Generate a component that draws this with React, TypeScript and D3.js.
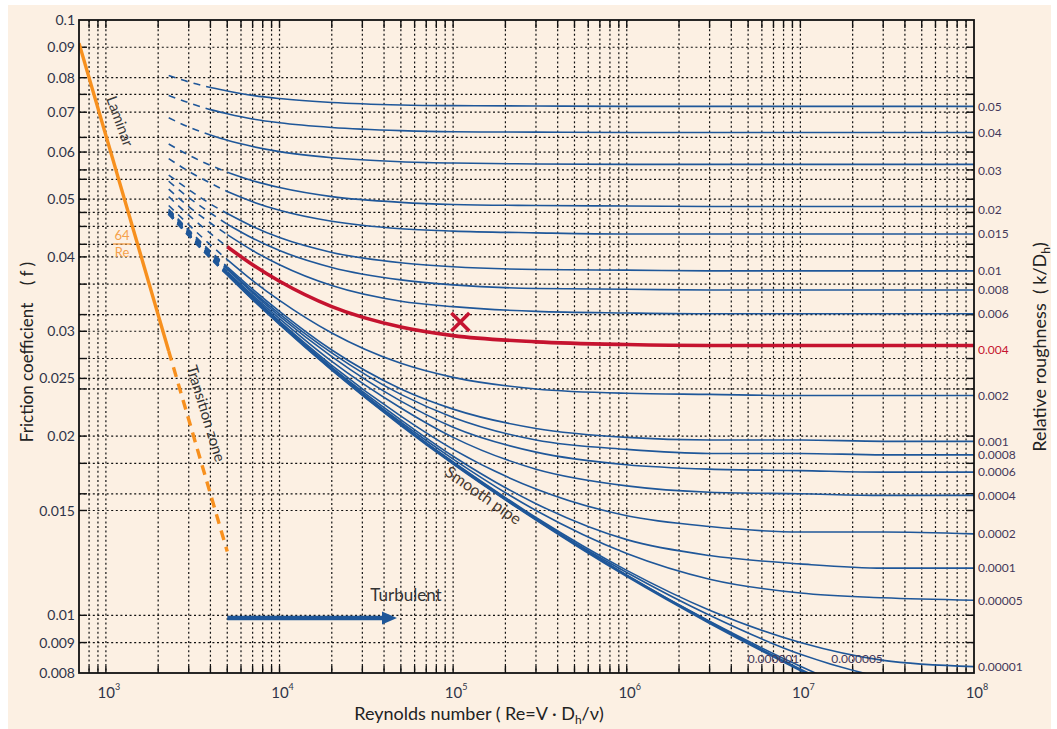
import React, { Component } from "react";
import * as d3 from "d3";

const reynolds = [2300, 3000, 4000, 5000, 7000, 1e4, 2e4, 5e4, 1e5, 3e5, 1e6, 3e6, 1e7, 3e7, 1e8];

// friction coefficient f of each relative roughness curve, one value per Re above
const rough_0_05 = [0.0807, 0.0787, 0.077, 0.076, 0.0747, 0.0738, 0.0727, 0.072, 0.0718, 0.0717, 0.0716, 0.0716, 0.0716, 0.0716, 0.0716];
const rough_0_04 = [0.0747, 0.0726, 0.0707, 0.0696, 0.0682, 0.0672, 0.066, 0.0652, 0.0649, 0.0648, 0.0647, 0.0647, 0.0647, 0.0647, 0.0647];
const rough_0_03 = [0.0685, 0.0661, 0.0641, 0.0628, 0.0613, 0.0601, 0.0587, 0.0578, 0.0575, 0.0573, 0.0572, 0.0572, 0.0572, 0.0572, 0.0572];
const rough_0_02 = [0.0619, 0.0593, 0.057, 0.0555, 0.0537, 0.0523, 0.0505, 0.0494, 0.049, 0.0488, 0.0487, 0.0486, 0.0486, 0.0486, 0.0486];
const rough_0_015 = [0.0585, 0.0557, 0.0532, 0.0515, 0.0495, 0.0479, 0.0459, 0.0446, 0.0442, 0.0439, 0.0437, 0.0437, 0.0437, 0.0437, 0.0437];
const rough_0_01 = [0.0549, 0.0519, 0.0491, 0.0473, 0.045, 0.0431, 0.0407, 0.0391, 0.0385, 0.0381, 0.038, 0.0379, 0.0379, 0.0379, 0.0379];
const rough_0_008 = [0.0536, 0.0503, 0.0474, 0.0454, 0.043, 0.041, 0.0384, 0.0366, 0.0359, 0.0354, 0.0353, 0.0352, 0.0352, 0.0352, 0.0352];
const rough_0_006 = [0.052, 0.0486, 0.0456, 0.0436, 0.041, 0.0388, 0.0358, 0.0337, 0.033, 0.0324, 0.0322, 0.0321, 0.0321, 0.0321, 0.0321];
const rough_0_004 = [0.0505, 0.047, 0.0438, 0.0416, 0.0388, 0.0364, 0.033, 0.0305, 0.0295, 0.0288, 0.0285, 0.0284, 0.0284, 0.0284, 0.0284];
const rough_0_002 = [0.0488, 0.0453, 0.0419, 0.0396, 0.0365, 0.0338, 0.0298, 0.0265, 0.0251, 0.024, 0.0236, 0.0235, 0.0234, 0.0234, 0.0234];
const rough_0_001 = [0.0481, 0.0444, 0.0409, 0.0385, 0.0353, 0.0324, 0.0279, 0.024, 0.0222, 0.0206, 0.0199, 0.0197, 0.0197, 0.0196, 0.0196];
const rough_0_0008 = [0.0479, 0.0443, 0.0407, 0.0383, 0.035, 0.0321, 0.0276, 0.0235, 0.0215, 0.0197, 0.019, 0.0187, 0.0187, 0.0186, 0.0186];
const rough_0_0006 = [0.0478, 0.0441, 0.0405, 0.0381, 0.0348, 0.0318, 0.0272, 0.0229, 0.0207, 0.0188, 0.0179, 0.0176, 0.0175, 0.0174, 0.0174];
const rough_0_0004 = [0.0476, 0.0439, 0.0403, 0.0378, 0.0345, 0.0315, 0.0267, 0.0223, 0.0199, 0.0176, 0.0165, 0.0161, 0.016, 0.0159, 0.0159];
const rough_0_0002 = [0.0475, 0.0437, 0.0401, 0.0376, 0.0343, 0.0312, 0.0263, 0.0216, 0.019, 0.0163, 0.0147, 0.0141, 0.0138, 0.0138, 0.0137];
const rough_0_0001 = [0.0474, 0.0436, 0.04, 0.0375, 0.0341, 0.031, 0.0261, 0.0213, 0.0185, 0.0154, 0.0134, 0.0126, 0.0122, 0.012, 0.012];
const rough_0_00005 = [0.0473, 0.0436, 0.0399, 0.0374, 0.034, 0.031, 0.026, 0.0211, 0.0183, 0.015, 0.0127, 0.0115, 0.0109, 0.0107, 0.0106];
const rough_0_00001 = [0.0473, 0.0435, 0.0399, 0.0374, 0.034, 0.0309, 0.0259, 0.0209, 0.0181, 0.0146, 0.0119, 0.0102, 0.009, 0.0084, 0.0082];
const rough_0_000005 = [0.0473, 0.0435, 0.0399, 0.0374, 0.034, 0.0309, 0.0259, 0.0209, 0.018, 0.0145, 0.0118, 0.01, 0.0086, 0.00786, 0.0075];
const rough_0_000001 = [0.0473, 0.0435, 0.0399, 0.0374, 0.034, 0.0309, 0.0259, 0.0209, 0.018, 0.0145, 0.01167, 0.00977, 0.00821, 0.00718, 0.0064];
const smoothPipe = [0.0473, 0.0435, 0.0399, 0.0374, 0.034, 0.0309, 0.0259, 0.0209, 0.018, 0.0145, 0.01165, 0.00972, 0.0081, 0.00695, 0.0059];

const roughnessLabels = ["0.05", "0.04", "0.03", "0.02", "0.015", "0.01", "0.008", "0.006", "0.004", "0.002", "0.001",
    "0.0008", "0.0006", "0.0004", "0.0002", "0.0001", "0.00005", "0.00001", "0.000005", "0.000001"];
const roughnessCurves = [rough_0_05, rough_0_04, rough_0_03, rough_0_02, rough_0_015, rough_0_01, rough_0_008, rough_0_006,
    rough_0_004, rough_0_002, rough_0_001, rough_0_0008, rough_0_0006, rough_0_0004, rough_0_0002, rough_0_0001,
    rough_0_00005, rough_0_00001, rough_0_000005, rough_0_000001];

// laminar line 64/Re, solid up to 2300 then dashed
const laminarRe = [700, 2300, 5000];
const laminarF = [0.0914, 0.0278, 0.0128];

// highlighted operating point (red cross)
const markRe = 1.1e5;
const markF = 0.0311;

const yTickValues = [0.1, 0.09, 0.08, 0.07, 0.06, 0.05, 0.04, 0.03, 0.025, 0.02, 0.015, 0.01, 0.009, 0.008];
const yGridValues = [0.09, 0.08, 0.075, 0.07, 0.0635, 0.06, 0.056, 0.054, 0.05, 0.0475, 0.045, 0.042, 0.04, 0.036,
    0.032, 0.03, 0.027, 0.025, 0.024, 0.02, 0.018, 0.016, 0.015, 0.01, 0.009];
const xDecades = [3, 4, 5, 6, 7, 8];

class MoodyChart extends Component {
    svgRef = React.createRef<SVGSVGElement>();

    componentDidMount() {
        this.draw();
    }

    draw() {
        const W = 1057, H = 729;
        const box = { left: 79, top: 20, right: 974, bottom: 673 };
        const blue = "#1f5799";
        const red = "#c5132f";
        const orange = "#f7901e";
        const ink = "#2f3448";

        const svg = d3.select(this.svgRef.current);
        svg.selectAll("*").remove();

        const x = d3.scaleLog().domain([700, 1e8]).range([box.left, box.right]);
        const y = d3.scaleLog().domain([0.008, 0.1]).range([box.bottom, box.top]);

        // paper
        svg.append("rect").attr("x", 8).attr("y", 5).attr("width", W - 14).attr("height", H - 5).attr("fill", "#fcf0e3");

        svg.append("clipPath").attr("id", "plotclip").append("rect")
            .attr("x", box.left).attr("y", box.top)
            .attr("width", box.right - box.left).attr("height", box.bottom - box.top);

        // vertical grid k*10^n
        const xGrid: number[] = [];
        for (let n = 2; n <= 7; n++) {
            for (let k = 1; k <= 9; k++) {
                const v = k * Math.pow(10, n);
                if (v > 700 && v < 1e8) xGrid.push(v);
            }
        }

        const grid = svg.append("g").attr("stroke", "#111").attr("stroke-width", 1.2).attr("stroke-dasharray", "2 2.6");
        grid.selectAll(".vgrid").data(xGrid).join("line").attr("class", "vgrid")
            .attr("x1", d => x(d)).attr("x2", d => x(d)).attr("y1", box.top).attr("y2", box.bottom);
        grid.selectAll(".hgrid").data(yGridValues).join("line").attr("class", "hgrid")
            .attr("x1", box.left).attr("x2", box.right).attr("y1", d => y(d)).attr("y2", d => y(d));

        // ticks
        const ticks = svg.append("g").attr("stroke", "#111").attr("stroke-width", 1.4);
        ticks.selectAll(".tb").data(xGrid).join("line").attr("class", "tb")
            .attr("x1", d => x(d)).attr("x2", d => x(d)).attr("y1", box.bottom).attr("y2", box.bottom - 7);
        ticks.selectAll(".tt").data(xGrid).join("line").attr("class", "tt")
            .attr("x1", d => x(d)).attr("x2", d => x(d)).attr("y1", box.top).attr("y2", box.top + 8);
        ticks.selectAll(".tl").data(yGridValues).join("line").attr("class", "tl")
            .attr("x1", box.left).attr("x2", box.left + 8).attr("y1", d => y(d)).attr("y2", d => y(d));
        ticks.selectAll(".tr").data(yGridValues).join("line").attr("class", "tr")
            .attr("x1", box.right - 8).attr("x2", box.right).attr("y1", d => y(d)).attr("y2", d => y(d));

        const plot = svg.append("g").attr("clip-path", "url(#plotclip)");

        const line = d3.line<[number, number]>()
            .x(d => x(d[0]))
            .y(d => y(d[1]))
            .curve(d3.curveMonotoneX);

        const drawCurve = (vals: number[], solidFrom: number, color: string, width: number) => {
            const pts: [number, number][] = reynolds.map((r, i) => [r, vals[i]]);
            const dashed = pts.filter(d => d[0] <= solidFrom);
            const solid = pts.filter(d => d[0] >= solidFrom);
            plot.append("path").attr("d", line(dashed)).attr("fill", "none")
                .attr("stroke", color).attr("stroke-width", width).attr("stroke-dasharray", "7 6");
            plot.append("path").attr("d", line(solid)).attr("fill", "none")
                .attr("stroke", color).attr("stroke-width", width);
        };

        roughnessCurves.forEach((vals, i) => {
            drawCurve(vals, i < 3 ? 4000 : 5000, blue, 1.6);
        });
        drawCurve(smoothPipe, 5000, blue, 3);

        // red highlighted curve k/D = 0.004
        const redPts: [number, number][] = reynolds.map((r, i) => [r, rough_0_004[i]]).filter(d => d[0] >= 5000) as [number, number][];
        plot.append("path").attr("d", line(redPts)).attr("fill", "none").attr("stroke", red).attr("stroke-width", 3.6);

        // laminar 64/Re
        const lam: [number, number][] = laminarRe.map((r, i) => [r, laminarF[i]]);
        const lamLine = d3.line<[number, number]>().x(d => x(d[0])).y(d => y(d[1]));
        plot.append("path").attr("d", lamLine(lam.slice(0, 2))).attr("fill", "none")
            .attr("stroke", orange).attr("stroke-width", 3.4);
        plot.append("path").attr("d", lamLine(lam.slice(1))).attr("fill", "none")
            .attr("stroke", orange).attr("stroke-width", 3.4).attr("stroke-dasharray", "10 7");

        // red cross
        const cx = x(markRe), cy = y(markF), s = 9;
        svg.append("path").attr("d", `M${cx - s},${cy - s}L${cx + s},${cy + s}M${cx - s},${cy + s}L${cx + s},${cy - s}`)
            .attr("stroke", red).attr("stroke-width", 3.6).attr("fill", "none");

        // turbulent arrow
        const ay = y(0.0099), ax0 = x(5000), ax1 = x(4.75e4);
        svg.append("line").attr("x1", ax0).attr("x2", ax1 - 12).attr("y1", ay).attr("y2", ay)
            .attr("stroke", blue).attr("stroke-width", 4.5);
        svg.append("path").attr("d", `M${ax1 - 15},${ay - 6.5}L${ax1},${ay}L${ax1 - 15},${ay + 6.5}Z`).attr("fill", blue);

        // frame
        svg.append("rect").attr("x", box.left).attr("y", box.top)
            .attr("width", box.right - box.left).attr("height", box.bottom - box.top)
            .attr("fill", "none").attr("stroke", "#111").attr("stroke-width", 1.8);

        const font = "Lato, 'Open Sans', sans-serif";

        // y tick labels
        svg.selectAll(".ylab").data(yTickValues).join("text").attr("class", "ylab")
            .attr("x", box.left - 4).attr("y", d => y(d)).attr("dy", "0.36em")
            .attr("text-anchor", "end").attr("font-family", font).attr("font-size", 14).attr("fill", ink)
            .text(d => String(d));

        // x tick labels 10^n
        xDecades.forEach(n => {
            const t = svg.append("text").attr("x", x(Math.pow(10, n)) + 3).attr("y", 698)
                .attr("text-anchor", "middle").attr("font-family", font).attr("font-size", 15).attr("fill", ink);
            t.append("tspan").text("10");
            t.append("tspan").attr("dy", -8).attr("font-size", 9).text(String(n));
        });

        // roughness labels at right
        const nudge: Record<string, number> = { "0.03": 6, "0.004": 4, "0.02": 3 };
        roughnessCurves.forEach((vals, i) => {
            const label = roughnessLabels[i];
            if (label === "0.000005" || label === "0.000001") return;
            svg.append("text").attr("x", box.right + 4)
                .attr("y", y(vals[vals.length - 1]) + (nudge[label] || 0)).attr("dy", "0.36em")
                .attr("font-family", font).attr("font-size", 12)
                .attr("fill", label === "0.004" ? red : "#45385a").text(label);
        });
        svg.append("text").attr("x", x(7e6)).attr("y", y(0.0083)).attr("text-anchor", "middle")
            .attr("font-family", font).attr("font-size", 12).attr("fill", "#45385a").text("0.000001");
        svg.append("text").attr("x", x(2.12e7)).attr("y", y(0.0083)).attr("text-anchor", "middle")
            .attr("font-family", font).attr("font-size", 12).attr("fill", "#45385a").text("0.000005");

        // annotations
        svg.append("text").attr("transform", "translate(115,123) rotate(70)").attr("text-anchor", "middle")
            .attr("font-family", font).attr("font-size", 15).attr("fill", "#3a3a3a").text("Laminar");
        svg.append("text").attr("x", 122).attr("y", 240).attr("text-anchor", "middle")
            .attr("font-family", font).attr("font-size", 13).attr("fill", "#f5a04a").text("64");
        svg.append("line").attr("x1", 113).attr("x2", 131).attr("y1", 244).attr("y2", 244)
            .attr("stroke", "#f5a04a").attr("stroke-width", 1.3);
        svg.append("text").attr("x", 122).attr("y", 257).attr("text-anchor", "middle")
            .attr("font-family", font).attr("font-size", 13).attr("fill", "#f5a04a").text("Re");
        svg.append("text").attr("transform", "translate(201,415) rotate(73)").attr("text-anchor", "middle")
            .attr("font-family", font).attr("font-size", 15).attr("fill", "#333").text("Transition zone");
        svg.append("text").attr("transform", "translate(480,500) rotate(35)").attr("text-anchor", "middle")
            .attr("font-family", font).attr("font-size", 16).attr("fill", "#4a3a30").text("Smooth pipe");
        svg.append("text").attr("x", 406).attr("y", 601).attr("text-anchor", "middle")
            .attr("font-family", font).attr("font-size", 17).attr("fill", "#333").text("Turbulent");

        // axis titles
        const xt = svg.append("text").attr("x", 479).attr("y", 720).attr("text-anchor", "middle")
            .attr("font-family", font).attr("font-size", 18).attr("fill", "#222");
        xt.append("tspan").text("Reynolds number ( Re=V · D");
        xt.append("tspan").attr("dy", 4).attr("font-size", 12).text("h");
        xt.append("tspan").attr("dy", -4).text("/ν)");

        svg.append("text").attr("transform", "translate(33,352) rotate(-90)").attr("text-anchor", "middle")
            .attr("font-family", font).attr("font-size", 17).attr("fill", "#222").style("white-space", "pre")
            .text("Friction coefficient    ( f )");

        const rt = svg.append("text").attr("transform", "translate(1046,347) rotate(-90)").attr("text-anchor", "middle")
            .attr("font-family", font).attr("font-size", 18).attr("fill", "#222").style("white-space", "pre");
        rt.append("tspan").text("Relative roughness  ( k/D");
        rt.append("tspan").attr("dy", 4).attr("font-size", 12).text("h");
        rt.append("tspan").attr("dy", -4).text(")");
    }

    render() {
        return (
            <svg ref={this.svgRef} width={1057} height={729}
                style={{ position: "absolute", left: 0, top: 0, background: "#ffffff" }} />
        );
    }
}

export default function App() {
    return <MoodyChart />;
}
